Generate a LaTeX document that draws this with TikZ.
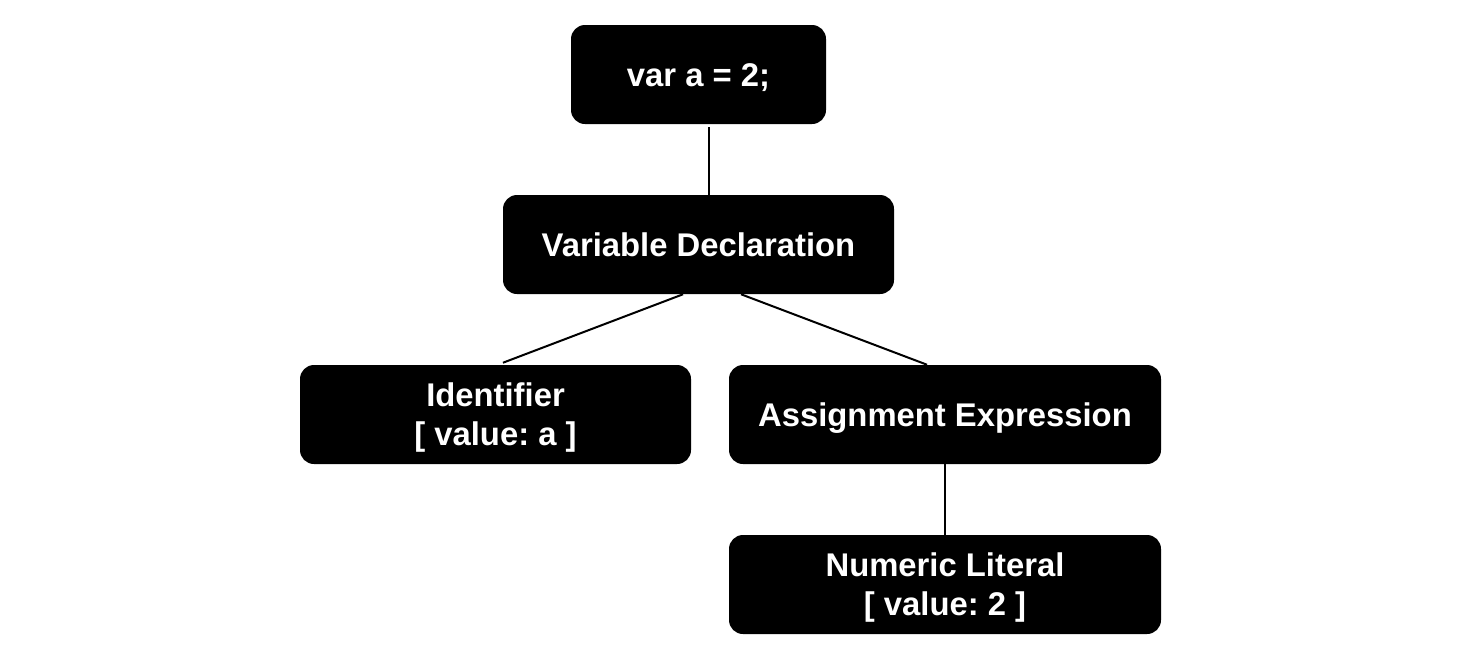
\documentclass[tikz,border=0pt]{standalone}
\usepackage{fontspec}
\setmainfont{Liberation Sans}
\frenchspacing
\begin{document}
\begin{tikzpicture}[x=0.75pt,y=-0.75pt,
  box/.style={fill=black, rounded corners=10.5pt, text=white, align=center,
    font=\bfseries\fontsize{24.6}{29.3}\selectfont\frenchspacing, inner sep=0pt,
    minimum height=74.25pt, text height=18.3pt, text depth=0pt},
  twoline/.style={text height=46.8pt, text depth=0pt},
  narrow/.style={box, minimum width=191.25pt},
  mid/.style={box, minimum width=293.25pt},
  wide/.style={box, minimum width=324pt},
  link/.style={draw=black, line width=1.5pt}]
\useasboundingbox (0,0) rectangle (1476,650);
\node[narrow] (src) at (698.5,74.5) {var a = 2;};
\node[mid] (vd) at (698.5,244.5) {Variable Declaration};
\node[mid, twoline] (id) at (495.5,414.5) {Identifier\\{[} value: a {]}};
\node[wide] (ae) at (945,414.5) {Assignment Expression};
\node[wide, twoline] (nl) at (945,584.5) {Numeric Literal\\{[} value: 2 {]}};
\draw[link] ([xshift=7.5pt,yshift=-2.25pt]src.south) -- ([xshift=7.5pt]vd.north);
\draw[link] ([xshift=-11.6pt]vd.south) -- ([xshift=5.6pt,yshift=1.5pt]id.north);
\draw[link] ([xshift=31.9pt]vd.south) -- ([xshift=-13.5pt]ae.north);
\draw[link] (ae.south) -- (nl.north);
\end{tikzpicture}
\end{document}
